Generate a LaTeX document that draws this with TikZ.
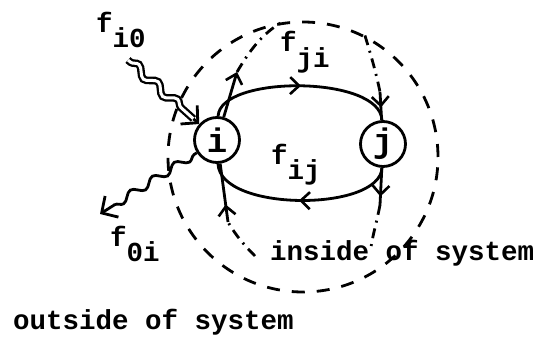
\documentclass[tikz,border=0pt]{standalone}
\usepackage{fontspec}
\setmonofont{Liberation Mono}
\usetikzlibrary{arrows.meta,decorations.pathmorphing,decorations.markings,calc}
\begin{document}
\begin{tikzpicture}[x=1pt,y=-1pt,
  txt/.style={font=\ttfamily\bfseries\fontsize{27.5}{30}\selectfont, inner sep=0pt, anchor=base west},
  vertex/.style={circle, draw, line width=2.8pt, minimum size=45pt, inner sep=0pt, font=\ttfamily\bfseries\fontsize{34}{34}\selectfont},
  ln/.style={line width=2.8pt},
  barb/.tip={Straight Barb[length=9pt,width=17pt,line width=2.6pt]},
  bigbarb/.tip={Straight Barb[length=12pt,width=25pt,line width=2.8pt]},
  midarrow/.style={postaction={decorate, decoration={markings, mark=at position #1 with {\arrow{barb}}}}},
  bound/.style={line width=2.8pt, dash pattern=on 13pt off 12pt},
  dd/.style={line width=2.8pt, dash pattern=on 10pt off 6pt on 2pt off 6pt},
  wavy/.style={decorate, decoration={snake, amplitude=4pt, segment length=26pt, pre length=3pt, post length=6pt}},
]
\useasboundingbox (0,0) rectangle (542,337);
\node[draw, circle, bound, minimum size=270pt, inner sep=0pt] (sys) at (303,157) {};
\node[vertex] (i) at (217,140) {i};
\node[vertex] (j) at (383,144) {j};
% solid arcs
\draw[ln, midarrow=0.5] (i) .. controls (220,75) and (380,75) .. (j);
\draw[ln, midarrow=0.5] (j) .. controls (380,212) and (220,212) .. (i);
% upper path i -> j
\coordinate (ua) at (237,72);
\draw[ln, -{barb}] (i) -- (ua);
\draw[dd] (ua) .. controls (250,50) and (262,34) .. (sys.99);
\coordinate (ub) at (380,92);
\draw[dd] (sys.63) .. controls (370,52) and (376,72) .. (ub);
\draw[ln, midarrow=0.55] (ub) -- (j);
% lower path j -> i
\coordinate (lb) at (380,205);
\draw[ln, midarrow=0.77] (j) -- (lb);
\coordinate (lc) at (371,247);
\draw[dd] (lb) .. controls (377,221) and (373,234) .. (lc);
\coordinate (ld) at (255,256);
\coordinate (la) at (228,222);
\draw[dd] (ld) .. controls (246,247) and (236,236) .. (la);
\draw[ln, midarrow=0.3] (la) -- (i);
% f_i0
\coordinate (f10s) at (128,60);
\coordinate (f10e) at ($(f10s)!88pt!(i)$);
\draw[line width=2.3pt, double, double distance=3pt, wavy] (f10s) -- (f10e);
\draw[ln, -{bigbarb}] (f10e) -- (i);
% f_0i
\coordinate (f0e) at (100,214);
\draw[ln, wavy, -{bigbarb}] (i) -- (f0e);
% labels
\node[txt] (Li0) at (96,33) {f\raisebox{-15pt}{i0}};
\node[txt] (Lji) at (280,52) {f\raisebox{-16pt}{ji}};
\node[txt] (Lij) at (271,165) {f\raisebox{-15pt}{ij}};
\node[txt] (L0i) at (110,247) {f\raisebox{-15pt}{0i}};
\node[txt] (inside) at (270,261) {inside of system};
\node[txt] (outside) at (13,330) {outside of system};
\end{tikzpicture}
\end{document}
